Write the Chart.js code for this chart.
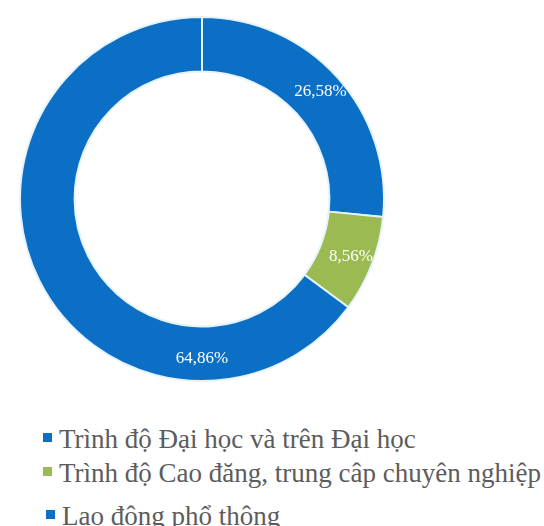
<!DOCTYPE html>
<html>
<head>
<meta charset="utf-8">
<script src="https://cdn.jsdelivr.net/npm/chart.js@4/dist/chart.umd.min.js"></script>
<style>
  html, body { margin: 0; padding: 0; background: #ffffff; }
  .chart-container { position: relative; width: 544px; height: 526px; overflow: hidden; }
  .chart-container canvas { display: block; }
  .legend { list-style: none; margin: 0; padding: 0; position: absolute; left: 43px; top: 422px; }
  .legend li {
    font-family: "Liberation Serif", "Times New Roman", serif;
    font-size: 27px;
    color: #5c5c5c;
    height: 34px;
    line-height: 34px;
    white-space: nowrap;
  }
  .legend li:last-child { margin-top: 9px; padding-left: 3px; }
  .legend li span.box {
    display: inline-block; width: 9px; height: 9px; margin-right: 7px; vertical-align: 6px;
  }
</style>
</head>
<body>
<div class="chart-container">
  <canvas id="chart" width="544" height="400"></canvas>
  <ul class="legend" id="legend"></ul>
</div>
<script>
const categories = [
  'Trình độ Đại học và trên Đại học',
  'Trình độ Cao đăng, trung câp chuyên nghiệp',
  'Lao động phổ thông'
];
const shares = [26.58, 8.56, 64.86];
const sliceColors = ['#0b6fc6', '#9bbb52', '#0b6fc6'];

const formatShare = v => v.toFixed(2).replace('.', ',') + '%';

// values written on the ring, white serif like the original
const sliceLabels = {
  id: 'sliceLabels',
  afterDatasetsDraw(chart) {
    const { ctx } = chart;
    const meta = chart.getDatasetMeta(0);
    ctx.save();
    ctx.font = '17px "Liberation Serif", serif';
    ctx.fillStyle = '#ffffff';
    ctx.textAlign = 'center';
    ctx.textBaseline = 'middle';
    meta.data.forEach((arc, i) => {
      const p = arc.getProps(['x', 'y', 'startAngle', 'endAngle', 'innerRadius', 'outerRadius'], true);
      let angle = (p.startAngle + p.endAngle) / 2;
      // the big last slice has its label at the bottom of the ring
      if (i === meta.data.length - 1) angle = Math.PI / 2;
      const r = (p.innerRadius + p.outerRadius) / 2 + 5;
      ctx.fillText(formatShare(shares[i]), p.x + Math.cos(angle) * r, p.y + Math.sin(angle) * r);
    });
    ctx.restore();
  }
};

new Chart(document.getElementById('chart'), {
  type: 'doughnut',
  data: {
    labels: categories,
    datasets: [{
      data: shares,
      backgroundColor: sliceColors,
      borderColor: '#e6f3fb',
      borderWidth: 2
    }]
  },
  options: {
    responsive: false,
    animation: false,
    cutout: '70%',
    layout: { padding: { left: 19, top: 16, right: 159, bottom: 18 } },
    plugins: {
      legend: { display: false },
      tooltip: { enabled: false }
    }
  },
  plugins: [sliceLabels]
});

const legend = document.getElementById('legend');
categories.forEach((name, i) => {
  const li = document.createElement('li');
  const box = document.createElement('span');
  box.className = 'box';
  box.style.background = sliceColors[i];
  li.appendChild(box);
  li.appendChild(document.createTextNode(name));
  legend.appendChild(li);
});
</script>
</body>
</html>
